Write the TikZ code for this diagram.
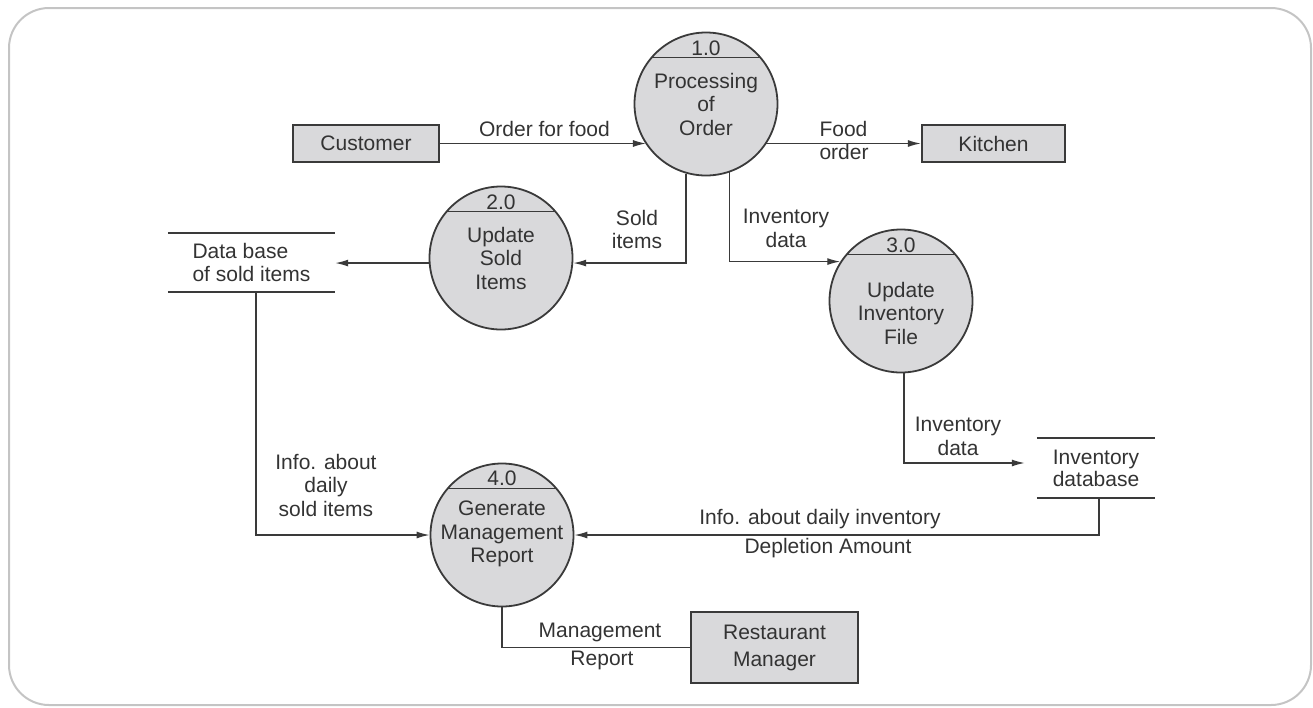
\documentclass[tikz,border=0pt]{standalone}
\usepackage{fontspec}
\setmainfont{Liberation Sans}
\usetikzlibrary{arrows.meta}
\definecolor{ink}{HTML}{3A3A3A}
\definecolor{txt}{HTML}{333333}
\definecolor{shade}{HTML}{D9D9DB}
\definecolor{framecol}{HTML}{C4C4C4}
\begin{document}
\begin{tikzpicture}[x=1pt,y=-1pt,
  every node/.style={font=\fontsize{21}{23.5}\selectfont, text=txt, inner sep=0pt},
  proc/.style={circle, draw=ink, line width=1.8pt, fill=shade, minimum size=143pt},
  entity/.style={rectangle, draw=ink, line width=2.2pt, fill=shade, align=center},
  store/.style={minimum height=59pt, align=left},
  flow/.style={draw=ink, line width=1.4pt, -{Latex[length=13pt,width=7pt]}},
  plain/.style={draw=ink, line width=1.4pt},
  divider/.style={draw=ink, line width=1.8pt},
  storeline/.style={draw=ink, line width=1.6pt},
  lbl/.style={align=center},
]
\useasboundingbox (0,0) rectangle (1313,707);
\draw[framecol, line width=2pt, rounded corners=40pt] (9,8) rectangle (1311,705);

% processes
\node[proc] (p1) at (706,104) {};
\node[proc] (p2) at (501,258) {};
\node[proc] (p3) at (901,301) {};
\node[proc] (p4) at (502,535) {};
\draw[divider] (p1.140) -- (p1.40);
\draw[divider] (p2.140) -- (p2.40);
\draw[divider] (p3.140) -- (p3.40);
\draw[divider] (p4.140) -- (p4.40);
\node (n1) at ([yshift=56pt]p1.center) {1.0};
\node (n2) at ([yshift=56pt]p2.center) {2.0};
\node (n3) at ([yshift=56pt]p3.center) {3.0};
\node (n4) at ([yshift=57pt]p4.center) {4.0};
\node[lbl] (t1) at (p1.center) {Processing\\of\\Order};
\node[lbl] (t2) at (p2.center) {Update\\Sold\\Items};
\node[lbl] (t3) at ([yshift=-12pt]p3.center) {Update\\Inventory\\File};
\node[lbl] (t4) at ([yshift=1pt]p4.center) {Generate\\Management\\Report};

% entities
\node[entity, minimum width=146pt, minimum height=37pt] (cust) at (366,143.5) {Customer};
\node[entity, minimum width=143pt, minimum height=37pt] (kit) at (993.5,143.5) {Kitchen};
\node[entity, minimum width=167pt, minimum height=71pt, font=\fontsize{21}{27}\selectfont] (mgr) at (774.5,647.5) {Restaurant\\Manager};

% data stores
\node[store, minimum width=167pt] (db1) at (251.5,262.5) {Data base\\of sold items};
\draw[storeline] (db1.north west) -- (db1.north east);
\draw[storeline] (db1.south west) -- (db1.south east);
\node[store, minimum width=118pt, minimum height=60pt, font=\fontsize{21}{22}\selectfont] (db2) at (1096,468) {Inventory\\database};
\draw[storeline] (db2.north west) -- (db2.north east);
\draw[storeline] (db2.south west) -- (db2.south east);

% flows
\draw[flow] (cust.east) -- (cust.east -| p1.214);
\draw[flow] (kit.west -| p1.326) -- (kit.west);
\draw[flow] (p1.254) |- (p2.356);
\draw[flow] (p1.289) |- (p3.147);
\draw[flow] (p2.184) -- (db1.east |- p2.184);
\draw[flow] ([xshift=4.5pt]db1.south) |- (p4.west);
\draw[flow] ([xshift=3pt]p3.south) |- ([xshift=-12pt,yshift=5pt]db2.west);
\draw[flow] ([xshift=3pt]db2.south) |- (p4.east);
\draw[plain] (p4.south) |- (mgr.west);

% labels
\node (l1) at (544.5,129) {Order for food};
\node[align=left] (l2) at (844,140.5) {Food\\order};
\node[lbl] (l3) at (637,229.5) {Sold\\items};
\node[lbl] (l4) at (786,228.5) {Inventory\\data};
\node[lbl] (l5) at (958,436.5) {Inventory\\data};
\node[lbl] (l6) at (326,485) {Info. about\\daily\\sold items};
\node (l7) at (820,519) {Info. about daily inventory};
\node (l8) at (828,548) {Depletion Amount};
\node (l9) at (600,632) {Management};
\node (l10) at (602,660) {Report};
\end{tikzpicture}
\end{document}
